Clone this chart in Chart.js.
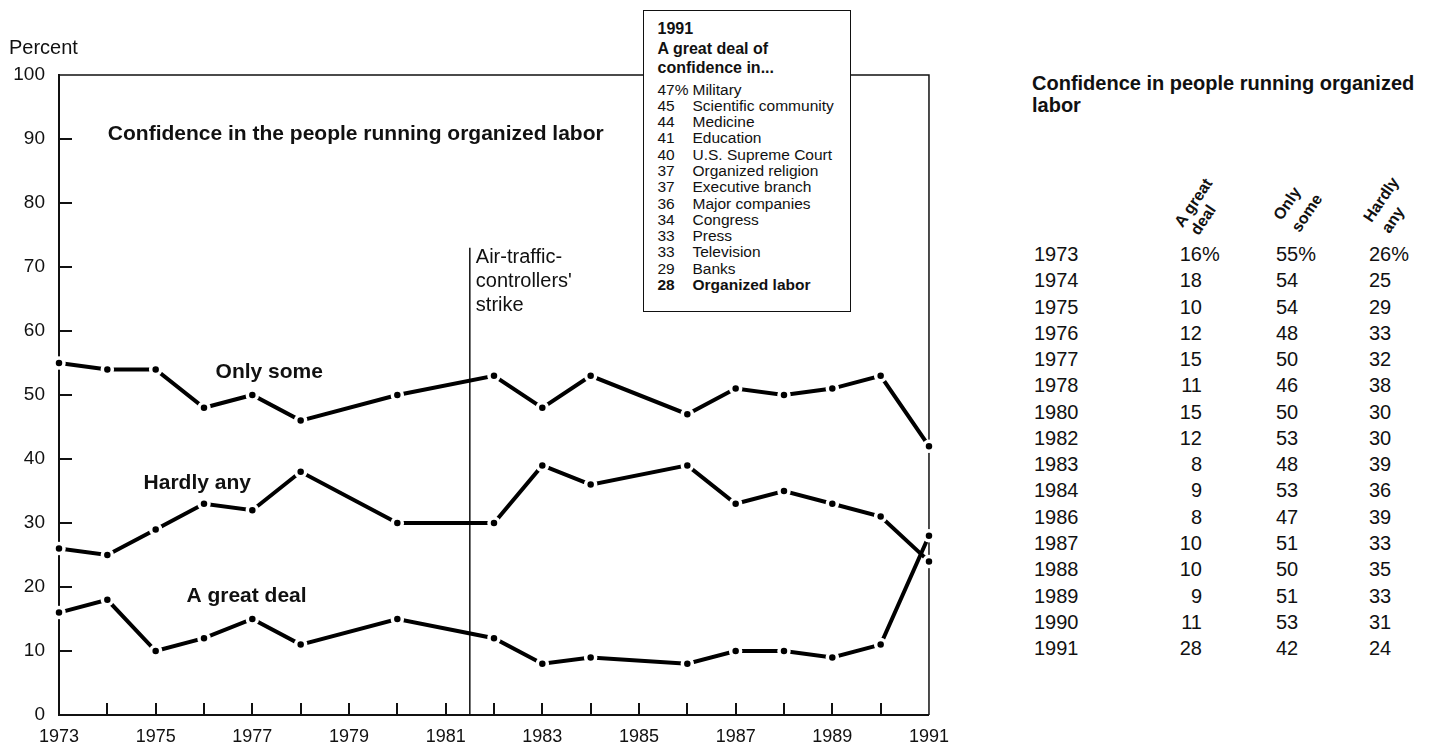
<!DOCTYPE html>
<html>
<head>
<meta charset="utf-8">
<script src="https://cdn.jsdelivr.net/npm/chart.js@4.4.0/dist/chart.umd.min.js"></script>
<style>
  body { margin: 0; background: #fff; color: #111; font-family: "Liberation Sans", Arial, sans-serif; }
  #wrap { position: relative; width: 1440px; height: 744px; overflow: hidden; }
  #chart { position: absolute; left: 0; top: 0; }
  .percent { position: absolute; left: 9px; top: 35px; font-size: 20px; line-height: 24px; }
  #inset { position: absolute; left: 643px; top: 10px; width: 208px; height: 302px; box-sizing: border-box;
           border: 1.5px solid #111; background: #fff; padding: 8px 0 0 13.5px; }
  #inset .hd { font-weight: bold; font-size: 16px; line-height: 19.5px; }
  #inset .list { margin-top: 4px; font-size: 15.5px; line-height: 16.3px; }
  #inset .row { display: flex; white-space: nowrap; }
  #inset .row span:first-child { width: 35px; }
  #inset .row.bold { font-weight: bold; }
  .ttitle { position: absolute; left: 1032px; top: 72px; font-weight: bold; font-size: 20px; line-height: 22px; white-space: nowrap; }
  .cell { position: absolute; font-size: 20px; line-height: 26px; white-space: nowrap; }
  .hdr { position: absolute; font-weight: bold; font-size: 16px; line-height: 16px; white-space: nowrap;
         transform-origin: 0 13.5px; transform: rotate(-56deg); }
</style>
</head>
<body>
<div id="wrap">
  <canvas id="chart" width="960" height="744"></canvas>
  <div class="percent">Percent</div>
  <div id="inset">
    <div class="hd">1991</div>
    <div class="hd">A great deal of</div>
    <div class="hd">confidence in...</div>
    <div class="list" id="insetList"></div>
  </div>
  <div class="ttitle">Confidence in people running organized<br>labor</div>
  <div id="table"></div>
</div>
<script>
const years = [1973, 1974, 1975, 1976, 1977, 1978, 1980, 1982, 1983, 1984, 1986, 1987, 1988, 1989, 1990, 1991];
const greatDeal = [16, 18, 10, 12, 15, 11, 15, 12, 8, 9, 8, 10, 10, 9, 11, 28];
const onlySome  = [55, 54, 54, 48, 50, 46, 50, 53, 48, 53, 47, 51, 50, 51, 53, 42];
const hardlyAny = [26, 25, 29, 33, 32, 38, 30, 30, 39, 36, 39, 33, 35, 33, 31, 24];

const institutions = ['Military', 'Scientific community', 'Medicine', 'Education', 'U.S. Supreme Court',
  'Organized religion', 'Executive branch', 'Major companies', 'Congress', 'Press', 'Television',
  'Banks', 'Organized labor'];
const institutionPct = [47, 45, 44, 41, 40, 37, 37, 36, 34, 33, 33, 29, 28];

const strikeYear = 1981.5;

// inset list
const list = document.getElementById('insetList');
institutions.forEach((name, i) => {
  const row = document.createElement('div');
  row.className = 'row' + (i === institutions.length - 1 ? ' bold' : '');
  row.innerHTML = '<span>' + institutionPct[i] + (i === 0 ? '%' : '') + '</span><span>' + name + '</span>';
  list.appendChild(row);
});

// right-hand table
const tbl = document.getElementById('table');
function cell(text, left, top, align) {
  const d = document.createElement('div');
  d.className = 'cell';
  d.textContent = text;
  d.style.top = top + 'px';
  if (align === 'right') { d.style.right = (1440 - left) + 'px'; } else { d.style.left = left + 'px'; }
  tbl.appendChild(d);
}
years.forEach((yr, i) => {
  const top = 254 + i * 26.27 - 13;
  const pct = i === 0 ? '%' : '';
  cell(String(yr), 1034, top);
  cell(String(greatDeal[i]), 1202, top, 'right');
  if (pct) cell(pct, 1202, top);
  cell(onlySome[i] + pct, 1276, top);
  cell(hardlyAny[i] + pct, 1369, top);
});
const headers = [['A great', 1183, 228], ['deal', 1199, 236], ['Only', 1282, 221], ['some', 1300, 233],
                 ['Hardly', 1372, 223], ['any', 1390, 234]];
headers.forEach(([t, x, y]) => {
  const d = document.createElement('div');
  d.className = 'hdr';
  d.textContent = t;
  d.style.left = x + 'px';
  d.style.top = (y - 13.5) + 'px';
  tbl.appendChild(d);
});

const seriesLabels = [
  { text: 'Confidence in the people running organized labor', x: 1974.01, y: 89.8, align: 'left' },
  { text: 'Only some', x: 1977.35, y: 52.66, align: 'center' },
  { text: 'Hardly any', x: 1975.86, y: 35.3, align: 'center' },
  { text: 'A great deal', x: 1976.88, y: 17.66, align: 'center' }
];
const strikeText = ['Air-traffic-', 'controllers\'', 'strike'];

const decor = {
  id: 'decor',
  beforeDatasetsDraw(chart) {
    const { ctx, chartArea: a, scales: { x, y } } = chart;
    ctx.save();
    ctx.strokeStyle = '#111';
    ctx.lineWidth = 1.5;
    ctx.beginPath();
    ctx.moveTo(a.left, a.top);
    ctx.lineTo(a.right, a.top);
    ctx.lineTo(a.right, a.bottom);
    ctx.stroke();

    // inward tick marks
    ctx.lineWidth = 2;
    ctx.beginPath();
    x.ticks.forEach(t => {
      if (t.value <= x.min || t.value >= x.max) return;
      const px = Math.round(x.getPixelForValue(t.value));
      ctx.moveTo(px, a.bottom);
      ctx.lineTo(px, a.bottom - 12);
    });
    y.ticks.forEach(t => {
      if (t.value <= y.min || t.value >= y.max) return;
      const py = Math.round(y.getPixelForValue(t.value));
      ctx.moveTo(a.left, py);
      ctx.lineTo(a.left + 13, py);
    });
    ctx.stroke();

    // strike marker
    const sx = x.getPixelForValue(strikeYear);
    const sTop = y.getPixelForValue(73);
    ctx.lineWidth = 1.5;
    ctx.beginPath();
    ctx.moveTo(sx, sTop);
    ctx.lineTo(sx, a.bottom);
    ctx.stroke();
    ctx.fillStyle = '#111';
    ctx.font = '20px "Liberation Sans", Arial, sans-serif';
    ctx.textAlign = 'left';
    ctx.textBaseline = 'alphabetic';
    strikeText.forEach((t, i) => ctx.fillText(t, sx + 6, sTop + 15 + i * 24));

    ctx.font = 'bold 21px "Liberation Sans", Arial, sans-serif';
    seriesLabels.forEach(l => {
      ctx.textAlign = l.align;
      ctx.fillText(l.text, x.getPixelForValue(l.x), y.getPixelForValue(l.y));
    });
    ctx.restore();
  }
};

function series(values) {
  return {
    data: years.map((yr, i) => ({ x: yr, y: values[i] })),
    borderColor: '#000',
    borderWidth: 4,
    pointRadius: 5,
    pointBackgroundColor: '#000',
    pointBorderColor: '#fff',
    pointBorderWidth: 3.5,
    tension: 0,
    clip: false
  };
}

const tickFont = { family: '"Liberation Sans", Arial, sans-serif' };

new Chart(document.getElementById('chart').getContext('2d'), {
  type: 'line',
  data: { datasets: [series(onlySome), series(hardlyAny), series(greatDeal)] },
  options: {
    responsive: false,
    animation: false,
    devicePixelRatio: 1,
    layout: { padding: { top: 75, right: 26, left: 0, bottom: 0 } },
    plugins: { legend: { display: false }, tooltip: { enabled: false } },
    scales: {
      x: {
        type: 'linear', min: 1973, max: 1991,
        grid: { display: false, drawTicks: false },
        border: { display: true, color: '#111', width: 2 },
        ticks: {
          stepSize: 1, autoSkip: false, maxRotation: 0, padding: 11, color: '#111',
          font: { ...tickFont, size: 18 },
          callback: v => ((v - 1973) % 2 === 0 ? String(v) : '')
        },
        afterFit: s => { s.height = 29; }
      },
      y: {
        min: 0, max: 100,
        grid: { display: false, drawTicks: false },
        border: { display: true, color: '#111', width: 2 },
        ticks: { stepSize: 10, padding: 14, color: '#111', font: { ...tickFont, size: 19 } },
        afterFit: s => { s.width = 59; }
      }
    }
  },
  plugins: [decor]
});
</script>
</body>
</html>
